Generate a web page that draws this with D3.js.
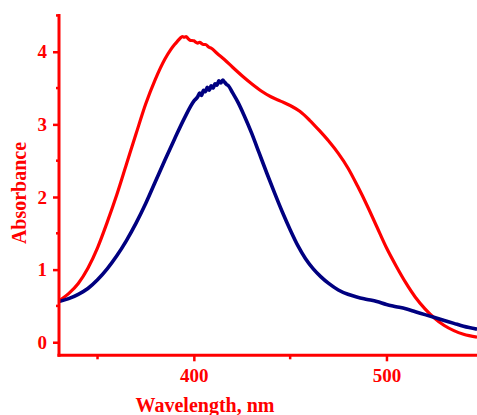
<!DOCTYPE html>
<html>

<head>
	<meta charset="utf-8">
	<script src="https://cdn.jsdelivr.net/npm/d3@7"></script>
	<style>
		body {
			margin: 0;
			background: #fff;
		}

		text {
			font-family: "Liberation Serif", "Times New Roman", serif;
			font-weight: bold;
			fill: #ff0000;
		}
	</style>
</head>

<body>
	<svg></svg>
	<script>
		// wavelength (nm) and absorbance
		var redNm = [330, 335, 340, 345, 350, 355, 360, 365, 370, 375, 380, 385, 388, 390, 392, 393, 394, 395, 396, 397, 398, 400, 402, 403, 405, 406, 408, 409, 412, 416, 420, 425, 430, 435, 440, 445, 450, 455, 460, 465, 470, 475, 480, 485, 490, 495, 500, 505, 510, 515, 520, 525, 530, 535, 540, 547];
		var redAbs = [0.57, 0.67, 0.81, 1.02, 1.30, 1.65, 2.03, 2.45, 2.87, 3.28, 3.62, 3.90, 4.03, 4.10, 4.16, 4.19, 4.21, 4.20, 4.21, 4.18, 4.16, 4.15, 4.12, 4.13, 4.10, 4.10, 4.06, 4.05, 3.98, 3.89, 3.79, 3.67, 3.56, 3.46, 3.38, 3.32, 3.26, 3.18, 3.06, 2.92, 2.77, 2.60, 2.40, 2.15, 1.88, 1.59, 1.30, 1.05, 0.82, 0.62, 0.46, 0.33, 0.23, 0.16, 0.11, 0.07];

		var blueNm = [330, 335, 340, 345, 350, 355, 360, 365, 370, 375, 380, 385, 390, 395, 400, 402, 403, 404, 405, 406, 407, 408, 409, 410, 411, 412, 413, 414, 415, 416, 417, 418, 420, 423, 426, 430, 434, 438, 442, 446, 450, 454, 458, 462, 466, 470, 475, 480, 485, 490, 495, 500, 505, 510, 515, 520, 525, 530, 535, 540, 547];
		var blueAbs = [0.56, 0.60, 0.66, 0.74, 0.86, 1.01, 1.19, 1.40, 1.64, 1.91, 2.21, 2.51, 2.80, 3.08, 3.32, 3.38, 3.43, 3.40, 3.47, 3.45, 3.51, 3.47, 3.53, 3.50, 3.56, 3.54, 3.60, 3.57, 3.61, 3.58, 3.55, 3.53, 3.44, 3.30, 3.13, 2.88, 2.60, 2.32, 2.05, 1.79, 1.55, 1.33, 1.15, 1.01, 0.90, 0.81, 0.72, 0.66, 0.62, 0.59, 0.56, 0.52, 0.49, 0.46, 0.42, 0.38, 0.34, 0.30, 0.26, 0.22, 0.18];

		var yTicks = [0, 1, 2, 3, 4];
		var yMinor = [0.5, 1.5, 2.5, 3.5, 4.5];
		var xTicks = [400, 500];
		var xMinor = [350, 450];

		var width = 477;
		var height = 415;
		var margins = {
			"left": 59,
			"right": 0,
			"top": 14,
			"bottom": 60
		};

		var svg = d3.select('svg')
			.attr("width", width)
			.attr("height", height)

		var xScale = d3.scaleLinear()
			.domain([330, 547])
			.range([margins.left, width - margins.right])
		var yScale = d3.scaleLinear()
			.domain([-0.18, 4.52])
			.range([height - margins.bottom + 0.3, margins.top])

		var line = d3.line()
			.x(d => xScale(d[0]))
			.y(d => yScale(d[1]))
			.curve(d3.curveMonotoneX);

		var redData = redNm.map((d, i) => [d, redAbs[i]]);
		var blueData = blueNm.map((d, i) => [d, blueAbs[i]]);

		svg.append("defs").append("clipPath").attr("id", "clip")
			.append("rect")
			.attr("x", margins.left)
			.attr("y", 0)
			.attr("width", width - margins.left)
			.attr("height", yScale(-0.18));

		svg.append("path")
			.datum(redData)
			.attr("clip-path", "url(#clip)")
			.attr("fill", "none")
			.attr("stroke", "#ff0000")
			.attr("stroke-width", 3.2)
			.attr("d", line);

		svg.append("path")
			.datum(blueData)
			.attr("clip-path", "url(#clip)")
			.attr("fill", "none")
			.attr("stroke", "#000080")
			.attr("stroke-width", 3.6)
			.attr("d", line);

		// y axis
		var yAxisG = svg.append("g")
			.attr("transform", "translate(" + margins.left + ",0)");
		yAxisG.call(d3.axisLeft(yScale).tickValues(yTicks).tickSize(6).tickSizeOuter(0).tickPadding(6).tickFormat(d3.format("d")));
		yAxisG.selectAll(".tick line").attr("stroke", "#ff0000").attr("stroke-width", 2.5);
		yAxisG.selectAll(".tick text").attr("font-size", 19).attr("fill", "#ff0000");
		yAxisG.select(".domain").remove();
		yAxisG.selectAll(".minor")
			.data(yMinor)
			.enter()
			.append("line")
			.attr("class", "minor")
			.attr("x1", -3)
			.attr("x2", 0)
			.attr("y1", d => yScale(d))
			.attr("y2", d => yScale(d))
			.attr("stroke", "#ff0000")
			.attr("stroke-width", 2.5);
		yAxisG.append("line")
			.attr("x1", 0).attr("x2", 0)
			.attr("y1", margins.top)
			.attr("y2", yScale(-0.18) + 1.5)
			.attr("stroke", "#ff0000")
			.attr("stroke-width", 3);

		// x axis
		var xAxisG = svg.append("g")
			.attr("transform", "translate(0," + yScale(-0.18) + ")");
		xAxisG.call(d3.axisBottom(xScale).tickValues(xTicks).tickSize(6).tickSizeOuter(0).tickPadding(7).tickFormat(d3.format("d")));
		xAxisG.selectAll(".tick line").attr("stroke", "#ff0000").attr("stroke-width", 2.5);
		xAxisG.selectAll(".tick text").attr("font-size", 19).attr("fill", "#ff0000");
		xAxisG.select(".domain").remove();
		xAxisG.selectAll(".minor")
			.data(xMinor)
			.enter()
			.append("line")
			.attr("class", "minor")
			.attr("x1", d => xScale(d))
			.attr("x2", d => xScale(d))
			.attr("y1", 0)
			.attr("y2", 4)
			.attr("stroke", "#ff0000")
			.attr("stroke-width", 2.5);
		xAxisG.append("line")
			.attr("x1", margins.left - 1.5)
			.attr("x2", width)
			.attr("y1", 0).attr("y2", 0)
			.attr("stroke", "#ff0000")
			.attr("stroke-width", 3);

		// axis titles
		svg.append("text")
			.attr("x", 205)
			.attr("y", 412)
			.attr("font-size", 20)
			.attr("text-anchor", "middle")
			.text("Wavelength, nm");

		svg.append("text")
			.attr("transform", "translate(26,193) rotate(-90)")
			.attr("font-size", 20)
			.attr("text-anchor", "middle")
			.text("Absorbance");
	</script>
</body>

</html>
